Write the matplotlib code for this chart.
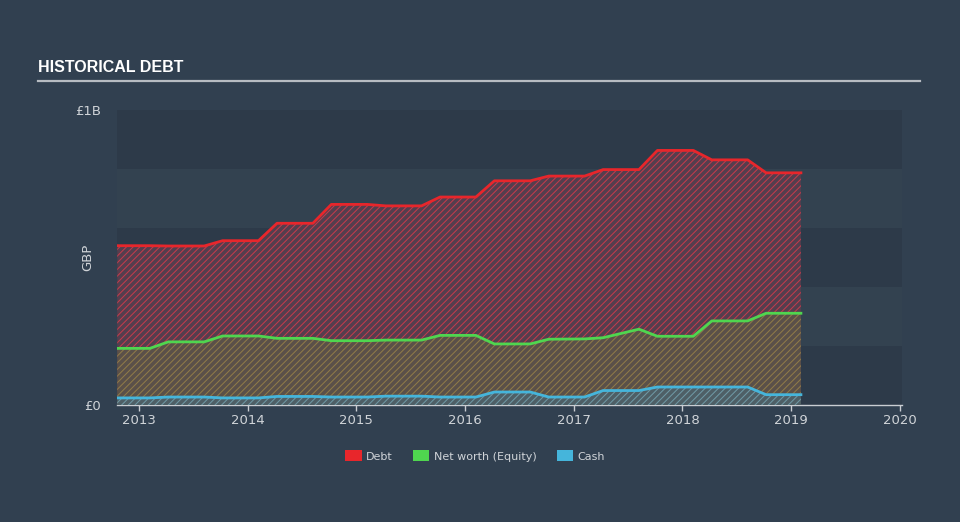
import numpy as np
import matplotlib
matplotlib.use("Agg")
import matplotlib.pyplot as plt
from matplotlib.patches import Patch

# fractional years of the data points
dates = [2012.80, 2013.10, 2013.27, 2013.60, 2013.77, 2014.10, 2014.27,
         2014.60, 2014.77, 2015.10, 2015.27, 2015.60, 2015.77, 2016.10,
         2016.27, 2016.60, 2016.77, 2017.10, 2017.27, 2017.60, 2017.77,
         2018.10, 2018.27, 2018.60, 2018.77, 2019.09]

# values in GBP billions
debt = [0.540, 0.540, 0.539, 0.539, 0.557, 0.557, 0.616, 0.616, 0.680,
        0.680, 0.675, 0.675, 0.705, 0.705, 0.760, 0.760, 0.776, 0.776,
        0.798, 0.798, 0.863, 0.863, 0.831, 0.831, 0.787, 0.787]
equity = [0.192, 0.192, 0.214, 0.214, 0.234, 0.234, 0.226, 0.226, 0.218,
          0.218, 0.220, 0.220, 0.236, 0.236, 0.207, 0.207, 0.223, 0.224,
          0.228, 0.257, 0.233, 0.233, 0.285, 0.285, 0.311, 0.311]
cash = [0.024, 0.024, 0.027, 0.027, 0.024, 0.024, 0.029, 0.029, 0.027,
        0.027, 0.030, 0.030, 0.027, 0.027, 0.044, 0.044, 0.027, 0.027,
        0.049, 0.049, 0.061, 0.061, 0.061, 0.061, 0.035, 0.035]

years = [2013, 2014, 2015, 2016, 2017, 2018, 2019, 2020]
labels = ["Debt", "Net worth (Equity)", "Cash"]
colors = ["#e8262b", "#4fd64f", "#45b5db"]
# base fill + hatch line colour of each area
fill_base = ["#553e4e", "#5a5049", "#4e5f66"]
fill_hatch = ["#c23c4c", "#8f7a48", "#6f98a4"]

bg = "#314050"
txt = "#d0d4d8"
plt.rcParams["hatch.linewidth"] = 0.75

fig = plt.figure(figsize=(9.6, 5.22), dpi=100, facecolor=bg)
ax = fig.add_axes([117/960, 1-405/522, 785/960, 295/522])
ax.set_facecolor(bg)

# horizontal bands
for i in range(5):
    c = "#2d3a49" if i % 2 == 0 else "#334250"
    ax.axhspan(i*0.2, (i+1)*0.2, color=c, lw=0, zorder=0)

for i, vals in enumerate([debt, equity, cash]):
    ax.fill_between(dates, 0, vals, facecolor=fill_base[i], edgecolor=fill_hatch[i],
                    hatch="/////", lw=0, zorder=1 + i)
for i, vals in enumerate([debt, equity, cash]):
    ax.plot(dates, vals, color=colors[i], lw=2, zorder=5)

ax.set_xlim(2012.798, 2020.02)
ax.set_ylim(0, 1.0)
ax.set_xticks(years)
ax.set_xticklabels([str(y) for y in years])
ax.set_yticks([0, 1.0])
ax.set_yticklabels(["£0", "£1B"])
ax.tick_params(axis="x", colors="#c9cdd2", labelcolor=txt, length=4.5,
               width=1, labelsize=9.5, pad=2)
ax.tick_params(axis="y", length=0, labelcolor=txt, labelsize=9.5, pad=11.5)
for s in ["top", "right", "left"]:
    ax.spines[s].set_visible(False)
ax.spines["bottom"].set_color("#c9cdd2")
ax.spines["bottom"].set_linewidth(1)
ax.set_ylabel("GBP", color=txt, fontsize=9.5, labelpad=-13.5)

fig.text(38/960, 1-68/522, "HISTORICAL DEBT", color="white", fontsize=11.5,
         fontweight="bold", fontstretch="condensed",
         family=["Liberation Sans Narrow", "Liberation Sans", "DejaVu Sans"],
         va="center", ha="left")
fig.add_artist(plt.Line2D([38/960, 920/960], [1-81/522, 1-81/522],
                          color="#b7bcc2", lw=1.6))

handles = [Patch(facecolor=c, edgecolor="none") for c in colors]
leg = fig.legend(handles, labels, loc="center",
                 bbox_to_anchor=(475/960, 1-456/522), ncol=3, frameon=False,
                 fontsize=8, handlelength=1.5, handleheight=1.1,
                 columnspacing=1.8, handletextpad=0.4)
for t in leg.get_texts():
    t.set_color(txt)

fig.savefig("out.png", dpi=100, facecolor=bg)
